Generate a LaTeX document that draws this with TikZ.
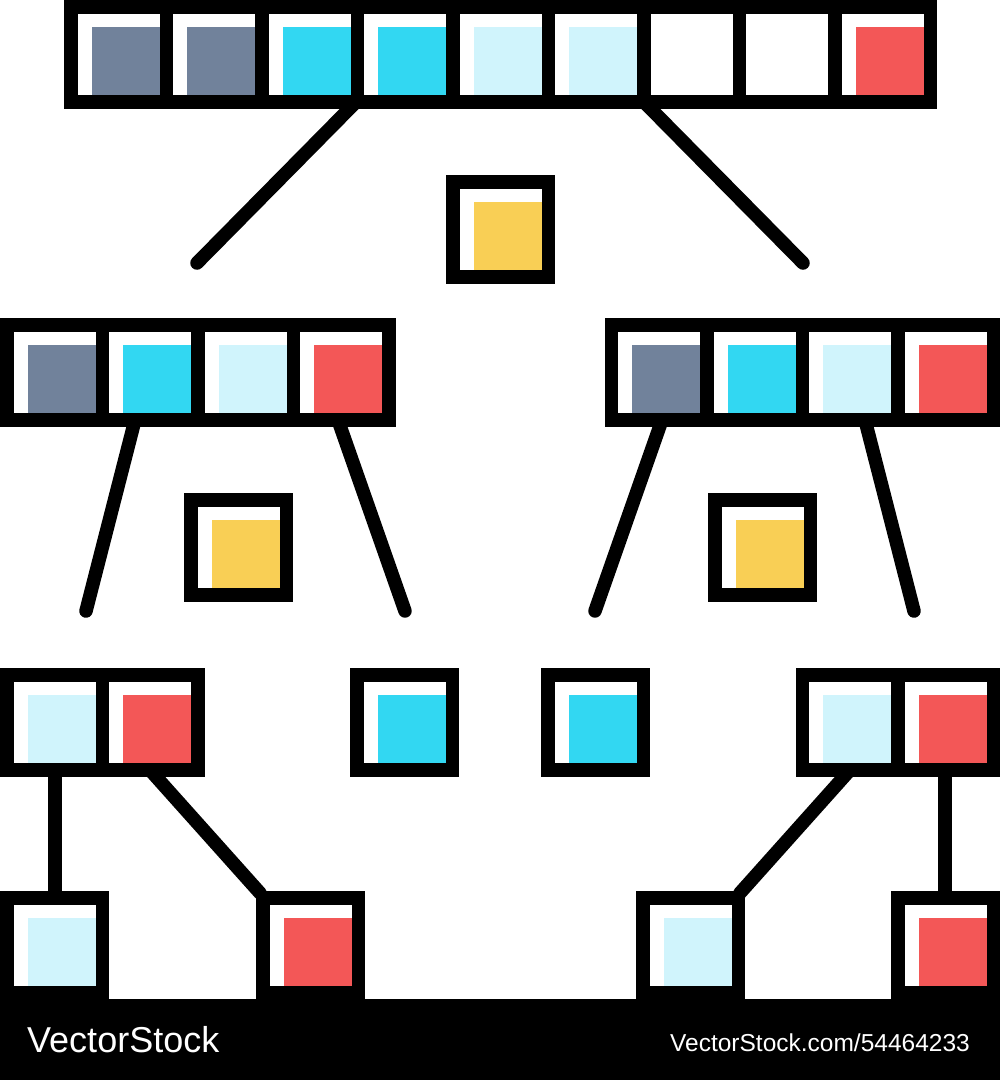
\documentclass[tikz,border=0pt]{standalone}
\usepackage{fontspec}
\setmainfont{Liberation Sans}
\definecolor{slate}{HTML}{71829B}
\definecolor{cyanc}{HTML}{32D7F2}
\definecolor{pale}{HTML}{D0F4FC}
\definecolor{redc}{HTML}{F35757}
\definecolor{yel}{HTML}{F9CF55}
\tikzset{
  blk/.style={fill=black, draw=none, inner sep=0pt, outer sep=0pt, anchor=north west},
  link/.style={line width=13.5pt, line cap=round, black},
  mark text/.style={text=white, inner sep=0pt}
}
% #1 name, #2 x, #3 y, #4 number of cells, #5 colours
\newcommand\boxarr[5]{%
  \node[blk, minimum width={#4*95.5+13.5}, minimum height=108.5] (#1) at (#2,#3) {};
  \foreach \c [count=\i from 0] in {#5} {
    \fill[white] ({#2+13.5+\i*95.5},{#3+13.5}) rectangle ++(82,81.5);
    \fill[\c] ({#2+27.5+\i*95.5},{#3+27}) rectangle ({#2+95.5+\i*95.5},{#3+95});
  }}
\begin{document}
\begin{tikzpicture}[x=1pt,y=-1pt]
\useasboundingbox (0,0) rectangle (1000,1080);
\fill[white] (0,0) rectangle (1000,1080);
% connector end points
\coordinate (a1) at (356,102); \coordinate (e1) at (197,263);
\coordinate (a2) at (644,102); \coordinate (e2) at (803,263);
\coordinate (b1) at (135,420); \coordinate (f1) at (86,611);
\coordinate (b2) at (338,420); \coordinate (f2) at (405,611);
\coordinate (b3) at (662,420); \coordinate (f3) at (595,611);
\coordinate (b4) at (865,420); \coordinate (f4) at (914,611);
\coordinate (c1) at (55,770);  \coordinate (g1) at (55,895);
\coordinate (c2) at (150,770); \coordinate (g2) at (260,893);
\coordinate (c3) at (850,770); \coordinate (g3) at (740,893);
\coordinate (c4) at (945,770); \coordinate (g4) at (945,895);
\draw[link] (a1) -- (e1); \draw[link] (a2) -- (e2);
\draw[link] (b1) -- (f1); \draw[link] (b2) -- (f2);
\draw[link] (b3) -- (f3); \draw[link] (b4) -- (f4);
\draw[link] (c1) -- (g1); \draw[link] (c2) -- (g2);
\draw[link] (c3) -- (g3); \draw[link] (c4) -- (g4);
% boxes
\boxarr{top}{64}{0}{9}{slate,slate,cyanc,cyanc,pale,pale,white,white,redc}
\boxarr{pivA}{446}{175}{1}{yel}
\boxarr{L}{0}{318}{4}{slate,cyanc,pale,redc}
\boxarr{R}{604.5}{318}{4}{slate,cyanc,pale,redc}
\boxarr{pivL}{184}{493}{1}{yel}
\boxarr{pivR}{708}{493}{1}{yel}
\boxarr{LL}{0}{668}{2}{pale,redc}
\boxarr{LM}{350}{668}{1}{cyanc}
\boxarr{RM}{541}{668}{1}{cyanc}
\boxarr{RR}{795.5}{668}{2}{pale,redc}
\boxarr{LLa}{0}{891}{1}{pale}
\boxarr{LLb}{256}{891}{1}{redc}
\boxarr{RRa}{636}{891}{1}{pale}
\boxarr{RRb}{891}{891}{1}{redc}
% footer band
\node[blk, minimum width=1000, minimum height=81] (band) at (0,999) {};
\node[mark text, anchor=base west, font=\fontsize{36}{36}\selectfont] (brand) at (27,1052) {VectorStock};
\node[mark text, anchor=base east, font=\fontsize{24.5}{24.5}\selectfont] (ref) at (970,1051) {VectorStock.com/54464233};
\end{tikzpicture}
\end{document}
